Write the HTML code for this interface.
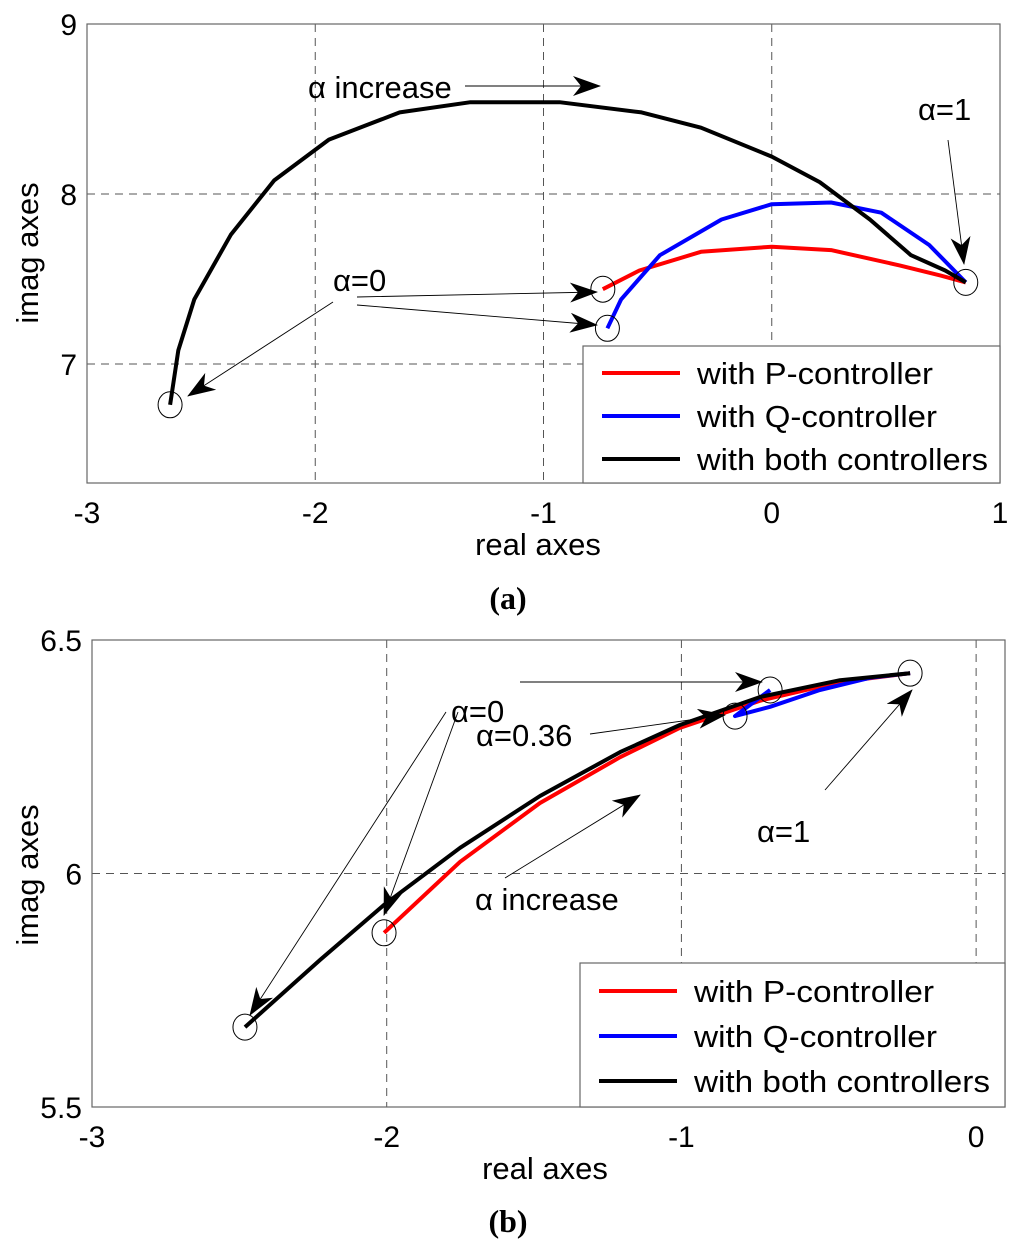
<!DOCTYPE html>
<html><head><meta charset="utf-8"><style>
html,body{margin:0;padding:0;background:#fff;}
svg{display:block;font-family:"Liberation Sans",sans-serif;}
</style></head><body>
<svg id="fig" width="1024" height="1249" viewBox="0 0 1024 1249" xmlns="http://www.w3.org/2000/svg">
<defs>
<marker id="ah" viewBox="0 0 28 20" refX="27" refY="10" markerWidth="28" markerHeight="20" markerUnits="userSpaceOnUse" orient="auto">
<path d="M0,0 L28,10 L0,20 L8,10 Z" fill="#000"/>
</marker>
</defs>
<g id="chartA"></g>
<g id="chartB"></g>
<text x="508" y="609" text-anchor="middle" font-family="Liberation Serif,serif" font-weight="bold" font-size="32">(a)</text>
<text x="508" y="1232" text-anchor="middle" font-family="Liberation Serif,serif" font-weight="bold" font-size="32">(b)</text>
</svg>
<script>
// ---- Chart (a) data ----
const aXTicks = [-3, -2, -1, 0, 1];
const aYTicks = [7, 8, 9];
const aBothX = [-2.636, -2.60, -2.53, -2.37, -2.18, -1.94, -1.63, -1.32, -0.93, -0.57, -0.31, 0, 0.21, 0.43, 0.61, 0.76, 0.85];
const aBothY = [6.76, 7.08, 7.38, 7.76, 8.08, 8.32, 8.48, 8.54, 8.54, 8.48, 8.39, 8.22, 8.07, 7.85, 7.64, 7.55, 7.48];
const aPX = [-0.74, -0.58, -0.31, 0, 0.26, 0.56, 0.74, 0.85];
const aPY = [7.44, 7.55, 7.66, 7.69, 7.67, 7.58, 7.52, 7.48];
const aQX = [-0.72, -0.66, -0.49, -0.22, 0, 0.26, 0.48, 0.69, 0.85];
const aQY = [7.21, 7.38, 7.64, 7.85, 7.94, 7.95, 7.89, 7.70, 7.48];
// ---- Chart (b) data ----
const bXTicks = [-3, -2, -1, 0];
const bYTicks = [5.5, 6, 6.5];
const bBothX = [-2.481, -2.226, -2.009, -1.751, -1.480, -1.208, -1.005, -0.733, -0.462, -0.224];
const bBothY = [5.671, 5.815, 5.933, 6.055, 6.166, 6.260, 6.318, 6.378, 6.414, 6.429];
const bPX = [-2.009, -1.751, -1.480, -1.208, -1.005, -0.733, -0.462, -0.224];
const bPY = [5.873, 6.025, 6.151, 6.249, 6.312, 6.370, 6.410, 6.429];
const bQX = [-0.699, -0.818, -0.699, -0.53, -0.36, -0.224];
const bQY = [6.393, 6.337, 6.357, 6.393, 6.419, 6.429];
const legendLabels = ["with P-controller", "with Q-controller", "with both controllers"];
const seriesColors = ["#ff0000", "#0000ff", "#000000"];

const NS = "http://www.w3.org/2000/svg";
function mk(parent, tag, attrs, text) {
  const e = document.createElementNS(NS, tag);
  for (const k in attrs) e.setAttribute(k, attrs[k]);
  if (text !== undefined) e.textContent = text;
  parent.appendChild(e);
  return e;
}

function drawChart(g, cfg) {
  const sx = v => cfg.left + (v - cfg.xmin) / (cfg.xmax - cfg.xmin) * (cfg.right - cfg.left);
  const sy = v => cfg.bottom - (v - cfg.ymin) / (cfg.ymax - cfg.ymin) * (cfg.bottom - cfg.top);
  cfg.xTicks.forEach(t => {
    const x = sx(t);
    if (x > cfg.left + 2 && x < cfg.right - 2) {
      const l = mk(g, "line", {x1: x, y1: cfg.top, x2: x, y2: cfg.bottom, stroke: "#555", "stroke-width": 1, "stroke-dasharray": "8,6"});
      
      
    }
    const tl = mk(g, "text", {x: x, y: cfg.bottom + 40, "text-anchor": "middle", "font-size": 30}, String(t));
    
    
  });
  cfg.yTicks.forEach(t => {
    const y = sy(t);
    if (y > cfg.top + 2 && y < cfg.bottom - 2) {
      const l = mk(g, "line", {x1: cfg.left, y1: y, x2: cfg.right, y2: y, stroke: "#555", "stroke-width": 1, "stroke-dasharray": "8,6"});
      
      
    }
    const tl = mk(g, "text", {x: cfg.left - 10, y: y + 11, "text-anchor": "end", "font-size": 30}, String(t));
    
    
  });
  const box = mk(g, "rect", {x: cfg.left, y: cfg.top, width: cfg.right - cfg.left, height: cfg.bottom - cfg.top, fill: "none", stroke: "#666", "stroke-width": 1.2});
  
  
  const xl = mk(g, "text", {x: cfg.xLabelX, y: cfg.bottom + 72, "text-anchor": "middle", "font-size": 31}, "real axes");
  
  
  const yl = mk(g, "text", {x: 0, y: 0, "text-anchor": "middle", "font-size": 31, transform: `translate(38,${cfg.yLabelY}) rotate(-90)`}, "imag axes");
  
  
  cfg.series.forEach((s, i) => {
    const pts = s.x.map((v, j) => sx(v).toFixed(1) + "," + sy(s.y[j]).toFixed(1)).join(" ");
    const pl = mk(g, "polyline", {points: pts, fill: "none", stroke: seriesColors[s.c], "stroke-width": 4, "stroke-linejoin": "round"});
    
    
  });
  cfg.circles.forEach(c => {
    const e = mk(g, "ellipse", {cx: sx(c[0]), cy: sy(c[1]), rx: 12, ry: 13, fill: "none", stroke: "#000", "stroke-width": 1});
    
    
  });
  const L = cfg.legend;
  const lb = mk(g, "rect", {x: L.x, y: L.y, width: L.w, height: L.h, fill: "#fff", stroke: "#666", "stroke-width": 1.2});
  
  
  legendLabels.forEach((lab, i) => {
    const yy = L.y + L.first + i * L.step;
    const ln = mk(g, "line", {x1: L.x + 19, y1: yy, x2: L.x + 97, y2: yy, stroke: seriesColors[i], "stroke-width": 4});
    
    
    const tx = mk(g, "text", {x: L.x + 114, y: yy + 11, "font-size": 31, textLength: L.tl[i], lengthAdjust: "spacingAndGlyphs"}, lab);
    
    
  });
}

function annot(g, items) {
  items.forEach(a => {
    if (a.t) {
      const t = mk(g, "text", {x: a.x, y: a.y, "font-size": 31}, a.t);
      
      
    } else {
      const attrs = {x1: a[0], y1: a[1], x2: a[2], y2: a[3], stroke: "#000", "stroke-width": 0.9};
      if (a[4] !== false) attrs["marker-end"] = "url(#ah)";
      const l = mk(g, "line", attrs);
      
      
    }
  });
}

const gA = document.getElementById("chartA");
drawChart(gA, {
  left: 87, right: 1000, top: 24, bottom: 483, xmin: -3, xmax: 1, ymin: 6.3, ymax: 9,
  xTicks: aXTicks, yTicks: aYTicks, xLabelX: 538, yLabelY: 253,
  series: [
    {x: aPX, y: aPY, c: 0, name: "series-p-controller"},
    {x: aQX, y: aQY, c: 1, name: "series-q-controller"},
    {x: aBothX, y: aBothY, c: 2, name: "series-both-controllers"}
  ],
  circles: [[aBothX[0], aBothY[0]], [aPX[0], aPY[0]], [aQX[0], aQY[0]], [aBothX[aBothX.length-1], aBothY[aBothY.length-1]]],
  legend: {x: 583, y: 346, w: 417, h: 137, first: 27, step: 43, tl: [236, 240, 291]}
});
annot(gA, [
  {t: "α increase", x: 308, y: 98},
  [465, 86, 600, 86],
  {t: "α=1", x: 918, y: 120},
  [948, 140, 964, 264],
  {t: "α=0", x: 333, y: 291},
  [357, 297, 597, 292],
  [357, 305, 597, 325],
  [333, 302, 188, 396]
]);

const gB = document.getElementById("chartB");
drawChart(gB, {
  left: 92, right: 1005, top: 640, bottom: 1107, xmin: -3, xmax: 0.098, ymin: 5.5, ymax: 6.5,
  xTicks: bXTicks, yTicks: bYTicks, xLabelX: 545, yLabelY: 875,
  series: [
    {x: bPX, y: bPY, c: 0, name: "series-p-controller"},
    {x: bQX, y: bQY, c: 1, name: "series-q-controller"},
    {x: bBothX, y: bBothY, c: 2, name: "series-both-controllers"}
  ],
  circles: [[bBothX[0], bBothY[0]], [bPX[0], bPY[0]], [bQX[0], bQY[0]], [bQX[1], bQY[1]], [bBothX[bBothX.length-1], bBothY[bBothY.length-1]]],
  legend: {x: 580, y: 963, w: 425, h: 144, first: 28, step: 45, tl: [240, 243, 296]}
});
annot(gB, [
  {t: "α=0", x: 451, y: 722},
  [520, 682, 762, 682],
  [446, 712, 250, 1015],
  [458, 712, 384, 915],
  {t: "α=0.36", x: 476, y: 746},
  [590, 734, 725, 715],
  {t: "α=1", x: 757, y: 842},
  [825, 790, 912, 690],
  {t: "α increase", x: 475, y: 910},
  [505, 878, 640, 795]
]);
</script>
</body></html>
